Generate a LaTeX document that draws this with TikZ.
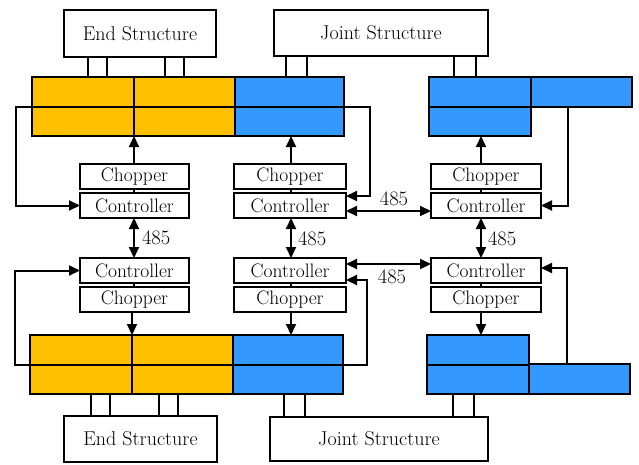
\documentclass[tikz,border=0pt]{standalone}
\usetikzlibrary{arrows.meta}
\definecolor{ylw}{RGB}{255,192,0}
\definecolor{blu}{RGB}{51,153,255}
\begin{document}
\begin{tikzpicture}[x=1pt,y=-1pt, line width=2pt,
 box/.style={draw, fill=white, inner sep=0pt, outer sep=0pt, minimum height=25pt, font=\fontsize{19.5}{22}\selectfont},
 big/.style={draw, fill=white, inner sep=0pt, outer sep=0pt, font=\fontsize{20}{24}\selectfont},
 blk/.style={draw, inner sep=0pt, outer sep=0pt, anchor=north west},
 arr/.style={-{Triangle[length=11pt,width=10pt]}},
 darr/.style={{Triangle[length=11pt,width=10pt]}-{Triangle[length=11pt,width=10pt]}},
 lbl/.style={font=\fontsize{20.5}{22}\selectfont, inner sep=0pt}]
\useasboundingbox (0,0) rectangle (639,464);

% structure boxes
\node[big, minimum width=152pt, minimum height=47pt] (endT) at (140,33.5) {End Structure};
\node[big, minimum width=214pt, minimum height=46pt] (jntT) at (381,33) {Joint Structure};
\node[big, minimum width=153pt, minimum height=46pt] (endB) at (140.5,439) {End Structure};
\node[big, minimum width=218pt, minimum height=44pt] (jntB) at (379,439) {Joint Structure};

% blocks
\node[blk, fill=ylw, minimum width=203pt, minimum height=59pt] (tlY) at (32,77) {};
\node[blk, fill=blu, minimum width=109pt, minimum height=59pt] (tlB) at (235,77) {};
\draw (tlY.north) -- (tlY.south);
\draw (tlY.west) -- (tlB.east);
\node[blk, fill=blu, minimum width=102pt, minimum height=59pt] (trB) at (429,77) {};
\node[blk, fill=blu, minimum width=101pt, minimum height=30pt] (trE) at (531,77) {};
\draw (trB.west) -- (trB.east);

\node[blk, fill=ylw, minimum width=203pt, minimum height=59pt] (blY) at (30,335) {};
\node[blk, fill=blu, minimum width=110pt, minimum height=59pt] (blB) at (233,335) {};
\draw (blY.north) -- (blY.south);
\draw (blY.west) -- (blB.east);
\node[blk, fill=blu, minimum width=102pt, minimum height=59pt] (brB) at (427,335) {};
\node[blk, fill=blu, minimum width=101pt, minimum height=30pt] (brE) at (529,364) {};
\draw (brB.west) -- (brB.east);

% legs
\foreach \o in {24,43,101,120} \draw (endT.south west) ++(\o,0) coordinate (t) -- (t |- tlY.north);
\foreach \o in {12,33} \draw (jntT.south west) ++(\o,0) coordinate (t) -- (t |- tlB.north);
\foreach \o in {180,202} \draw (jntT.south west) ++(\o,0) coordinate (t) -- (t |- trB.north);
\foreach \o in {27,46,95,114} \draw (endB.north west) ++(\o,0) coordinate (t) -- (t |- blY.south);
\foreach \o in {14,35} \draw (jntB.north west) ++(\o,0) coordinate (t) -- (t |- blB.south);
\foreach \o in {183,204} \draw (jntB.north west) ++(\o,0) coordinate (t) -- (t |- brB.south);

% columns
\coordinate (cLt) at (134,0);
\coordinate (cLb) at (132,0);
\coordinate (cM) at (291,0);
\coordinate (cR) at (481,0);
\coordinate (fMt) at (370,0);
\coordinate (fMb) at (367,0);
\coordinate (fRt) at (568,0);
\coordinate (fRb) at (567,0);

% choppers and controllers
\node[box, minimum width=109pt] (chTL) at (134.5,176.5) {Chopper};
\node[box, minimum width=109pt] (ctTL) at (134.5,205.5) {Controller};
\node[box, minimum width=109pt] (ctBL) at (134.5,270.5) {Controller};
\node[box, minimum width=109pt] (chBL) at (134.5,299.5) {Chopper};
\node[box, minimum width=112pt] (chTM) at (290,176.5) {Chopper};
\node[box, minimum width=112pt] (ctTM) at (290,205.5) {Controller};
\node[box, minimum width=112pt] (ctBM) at (290,270.5) {Controller};
\node[box, minimum width=112pt] (chBM) at (290,299.5) {Chopper};
\node[box, minimum width=110pt] (chTR) at (486,176.5) {Chopper};
\node[box, minimum width=110pt] (ctTR) at (486,205.5) {Controller};
\node[box, minimum width=110pt] (ctBR) at (486,270.5) {Controller};
\node[box, minimum width=110pt] (chBR) at (486,299.5) {Chopper};

% vertical connections
\draw[arr] (chTL.north -| cLt) -- (tlY.south -| cLt);
\draw (chTL.south -| cLt) -- (ctTL.north -| cLt);
\draw[darr] (ctTL.south -| cLt) -- (ctBL.north -| cLt);
\draw (ctBL.south -| cLt) -- (chBL.north -| cLt);
\draw[arr] (chBL.south -| cLb) -- (blY.north -| cLb);

\draw[arr] (chTM.north -| cM) -- (tlB.south -| cM);
\draw (chTM.south -| cM) -- (ctTM.north -| cM);
\draw[darr] (ctTM.south -| cM) -- (ctBM.north -| cM);
\draw (ctBM.south -| cM) -- (chBM.north -| cM);
\draw[arr] (chBM.south -| cM) -- (blB.north -| cM);

\draw[arr] (chTR.north -| cR) -- (trB.south -| cR);
\draw (chTR.south -| cR) -- (ctTR.north -| cR);
\draw[darr] (ctTR.south -| cR) -- (ctBR.north -| cR);
\draw (ctBR.south -| cR) -- (chBR.north -| cR);
\draw[arr] (chBR.south -| cR) -- (brB.north -| cR);

% horizontal 485 links
\draw[darr] ([yshift=-5.5pt]ctTM.east) -- ([yshift=-5.5pt]ctTR.west);
\draw[darr] ([yshift=6.5pt]ctBM.east) -- ([yshift=6.5pt]ctBR.west);

% feedback lines
\draw[arr] (tlY.west) -- ++(-16,0) |- (ctTL.west);
\draw[arr] (tlB.east) -- (tlB.east -| fMt) |- ([yshift=9.5pt]ctTM.east);
\draw[arr] (trE.south -| fRt) |- (ctTR.east);
\draw[arr] (blY.west) -- ++(-15,0) |- (ctBL.west);
\draw[arr] (blB.east) -- (blB.east -| fMb) |- ([yshift=-9.5pt]ctBM.east);
\draw[arr] (brE.north -| fRb) |- ([yshift=2.5pt]ctBR.east);

% labels
\node[lbl, anchor=west] (l1) at (141,238) {485};
\node[lbl, anchor=west] (l2) at (297,239) {485};
\node[lbl, anchor=west] (l3) at (487,239) {485};
\node[lbl] (l4) at (394,199) {485};
\node[lbl] (l5) at (392,277) {485};
\end{tikzpicture}
\end{document}
